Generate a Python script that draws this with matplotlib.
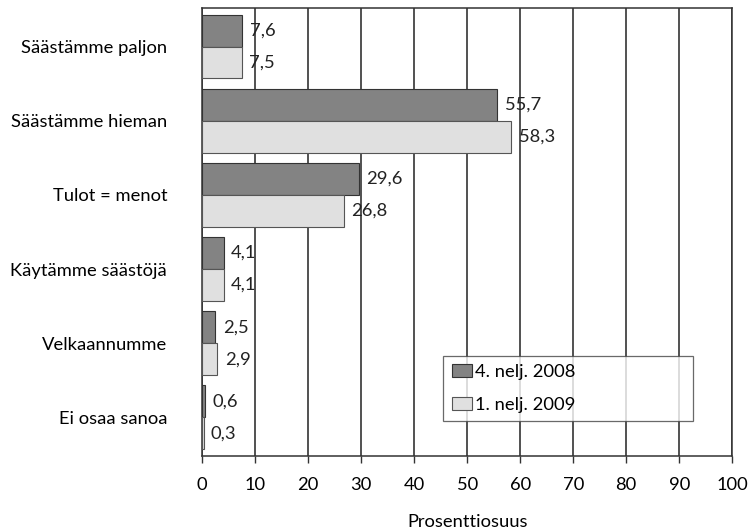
import numpy as np
import matplotlib.pyplot as plt

plt.rcParams['font.family'] = ['Lato', 'DejaVu Sans']

categories = ["Säästämme paljon", "Säästämme hieman", "Tulot = menot",
              "Käytämme säästöjä", "Velkaannumme", "Ei osaa sanoa"]
q4_2008 = [7.6, 55.7, 29.6, 4.1, 2.5, 0.6]
q1_2009 = [7.5, 58.3, 26.8, 4.1, 2.9, 0.3]
series_labels = ["4. nelj. 2008", "1. nelj. 2009"]
xticks = [0, 10, 20, 30, 40, 50, 60, 70, 80, 90, 100]

FS = 13.2

fig = plt.figure(figsize=(7.48, 5.32), dpi=100)
ax = fig.add_axes([0.270, 0.143, 0.709, 0.842])

y = np.arange(len(categories))
h = 0.43
b1 = ax.barh(y - h / 2, q4_2008, height=h, color='#838383', edgecolor='#333333',
             linewidth=0.8, label=series_labels[0], zorder=3)
b2 = ax.barh(y + h / 2, q1_2009, height=h, color='#e0e0e0', edgecolor='#555555',
             linewidth=0.8, label=series_labels[1], zorder=3)

for bars, vals in ((b1, q4_2008), (b2, q1_2009)):
    for bar, v in zip(bars, vals):
        ax.text(v + 1.4, bar.get_y() + bar.get_height() / 2,
                f"{v:.1f}".replace('.', ','), va='center', ha='left',
                fontsize=FS, color='#222222', zorder=4)

ax.set_xlim(0, 100)
ax.set_ylim(len(categories) - 0.5 + 0.02, -0.5 - 0.02)
ax.set_xticks(xticks)
ax.set_xticklabels([str(t) for t in xticks], fontsize=FS)
ax.set_yticks(y)
ax.set_yticklabels(categories, fontsize=FS)
ax.tick_params(axis='y', length=0, pad=25)
ax.tick_params(axis='x', direction='out', length=5, width=1, color='#333333', pad=10)
ax.xaxis.grid(True, color='#222222', linewidth=1.1, zorder=0)
for s in ax.spines.values():
    s.set_color('#333333')
    s.set_linewidth(1.1)

ax.set_xlabel("Prosenttiosuus", fontsize=FS, labelpad=15)

leg = ax.legend(loc='lower left', bbox_to_anchor=(0.455, 0.078, 0.470, 0.158),
                mode='expand', fontsize=FS, frameon=True, fancybox=False,
                edgecolor='#444444', borderpad=0.45, labelspacing=0.9,
                handlelength=1.1, handleheight=0.7, handletextpad=0.2,
                borderaxespad=0)
leg.get_frame().set_linewidth(0.9)
leg.set_zorder(5)

fig.savefig("out.png", dpi=100, facecolor='white')
